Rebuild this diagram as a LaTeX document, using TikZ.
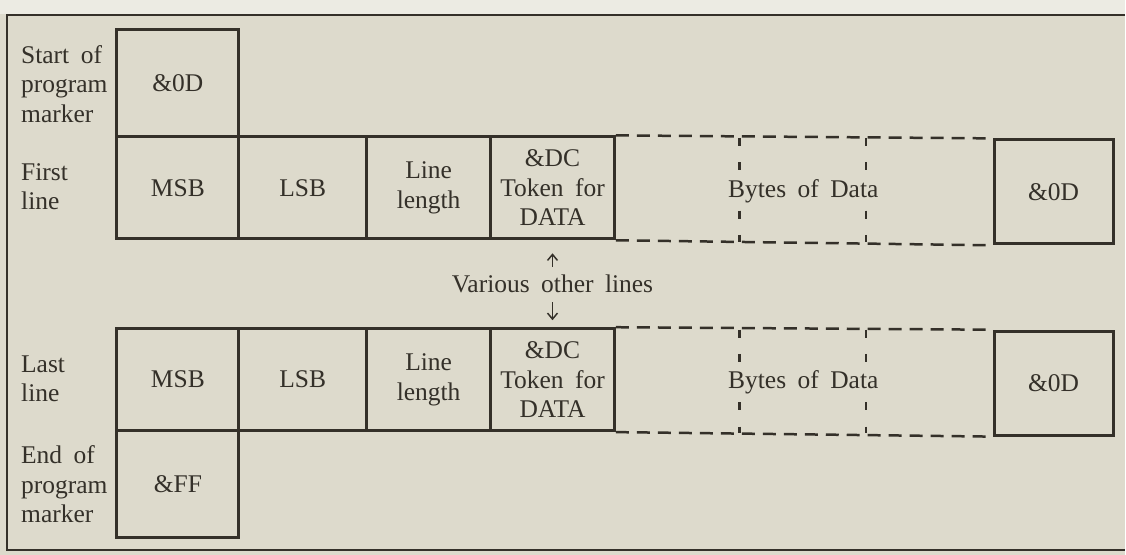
\documentclass[tikz,border=0pt]{standalone}
\usepackage{fontspec}
\setmainfont{Liberation Serif}[WordSpace=1.8]
\usetikzlibrary{arrows.meta, positioning}
\definecolor{paper}{RGB}{221,218,204}
\definecolor{ink}{RGB}{52,48,41}

\begin{document}
\begin{tikzpicture}[
  x=1pt, y=-1pt,
  every node/.style={font=\fontsize{25.5}{29.5}\selectfont, text=ink},
  cell/.style={draw=ink, line width=3pt, minimum height=102pt, inner sep=0pt, align=center},
  endmark/.style={cell, minimum width=122pt, minimum height=107pt},
  crbox/.style={cell, minimum width=119pt, minimum height=104pt},
  sidelabel/.style={align=left, anchor=west, inner sep=0pt},
  dashline/.style={draw=ink, line width=2.5pt, dash pattern=on 13pt off 8pt},
  divider/.style={draw=ink, line width=2.5pt, dash pattern=on 8pt off 16.25pt},
  gapfill/.style={fill=paper, inner xsep=2pt, inner ysep=4pt},
  arrow/.style={-{Straight Barb[length=6pt,width=10pt]}, line width=1.5pt, draw=ink}
]

% Paper and frame
\fill[paper] (0,0) rectangle (1126,555);
\fill[paper!55!white] (0,0) rectangle (1126,14);
\draw[ink, line width=2pt] (1126,15) -- (7,15) -- (7,550) -- (1126,550);

% Start of program marker
\node[endmark] (start) at (178,83.5) {\&0D};

% First line
\node[cell, minimum width=122pt] (msb1) at (178,188) {MSB};
\node[cell, minimum width=128pt] (lsb1) at (303,188) {LSB};
\node[cell, minimum width=124pt] (len1) at (429,188) {Line\\length};
\node[cell, minimum width=124pt] (dc1) at (553,188) {\&DC\\Token for\\DATA};
\node[crbox] (cr1) at (1054.5,192) {\&0D};

% Last line
\node[cell, minimum width=122pt] (msb2) at (178,380) {MSB};
\node[cell, minimum width=128pt] (lsb2) at (303,380) {LSB};
\node[cell, minimum width=124pt] (len2) at (429,380) {Line\\length};
\node[cell, minimum width=124pt] (dc2) at (553,380) {\&DC\\Token for\\DATA};
\node[crbox] (cr2) at (1054.5,383.5) {\&0D};

% End of program marker
\node[endmark] (end) at (178,484.5) {\&FF};

% Side labels
\node[sidelabel] (lstart) at (21,84) {Start of\\program\\marker};
\node[sidelabel] (lfirst) at (21,187) {First\\line};
\node[sidelabel] (llast) at (21,379) {Last\\line};
\node[sidelabel] (lend) at (21,485) {End of\\program\\marker};

% Dashed bytes of data
\draw[dashline] (dc1.north east) -- (cr1.north west);
\draw[dashline] (dc1.south east) -- (cr1.south west);
\draw[dashline] (dc2.north east) -- (cr2.north west);
\draw[dashline] (dc2.south east) -- (cr2.south west);
\foreach \x in {740,867} {
  \draw[divider] (\x,138) -- (\x,242);
  \draw[divider] (\x,330) -- (\x,433);
}
\node[gapfill] (bytes1) at (804,191) {Bytes of Data};
\node[gapfill] (bytes2) at (804,383) {Bytes of Data};

% Various other lines
\node[inner sep=0pt, anchor=base] (various) at (553,293) {Various other lines};
\draw[arrow, shorten <=8pt, shorten >=13pt] (various.north) -- (dc1.south);
\draw[arrow, shorten <=9pt, shorten >=7pt] (various.south) -- (dc2.north);

\end{tikzpicture}
\end{document}
